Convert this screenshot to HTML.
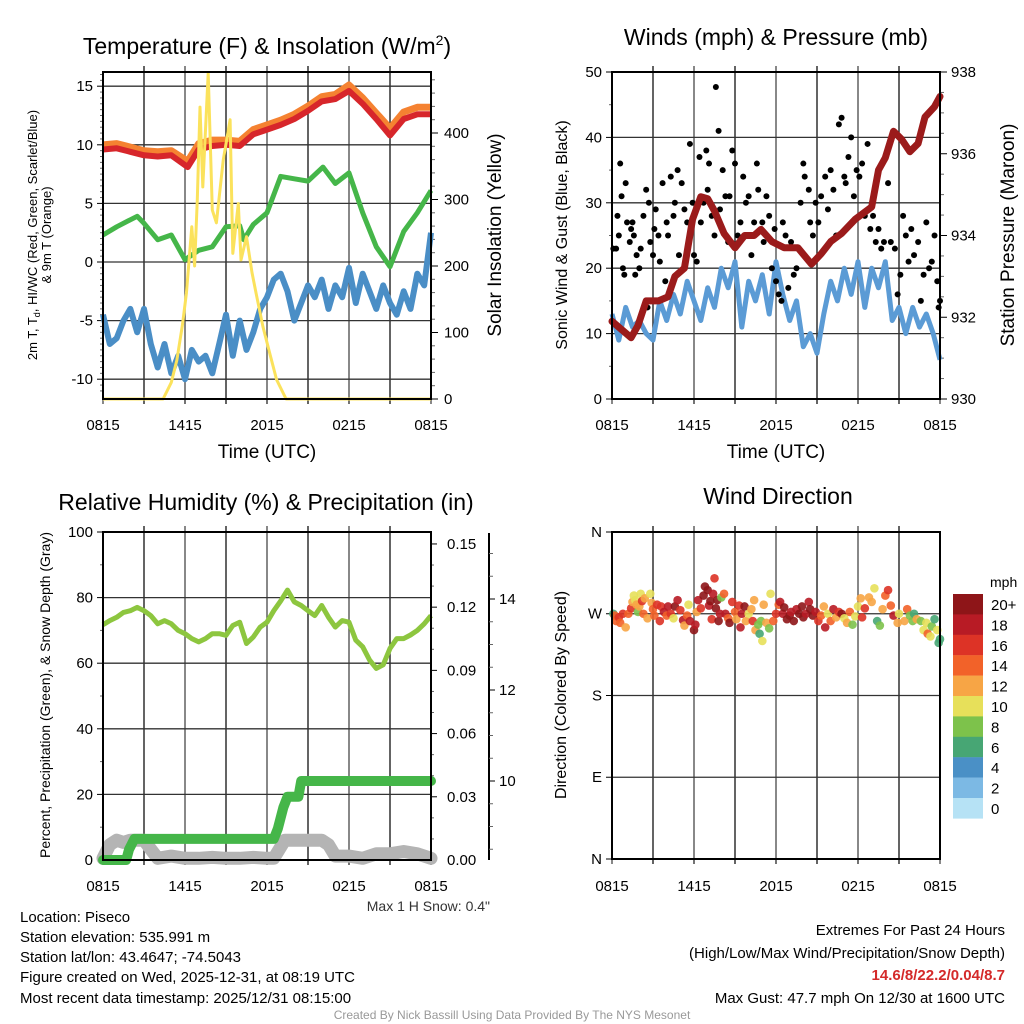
<!DOCTYPE html>
<html><head><meta charset="utf-8"><style>
body{margin:0;background:#fff;width:1024px;height:1024px;overflow:hidden}
svg{display:block;font-family:"Liberation Sans",Arial,sans-serif}
</style></head><body>
<svg id="s" width="1024" height="1024" xmlns="http://www.w3.org/2000/svg">
<g id="texts">
<text x="267" y="54" font-size="23" text-anchor="middle">Temperature (F) &amp; Insolation (W/m<tspan font-size="14" dy="-9">2</tspan><tspan dy="9">)</tspan></text>
<text x="776" y="45" font-size="23" text-anchor="middle">Winds (mph) &amp; Pressure (mb)</text>
<text x="266" y="510" font-size="23" text-anchor="middle">Relative Humidity (%) &amp; Precipitation (in)</text>
<text x="778" y="504" font-size="23" text-anchor="middle">Wind Direction</text>
<text x="267" y="458" font-size="19" text-anchor="middle">Time (UTC)</text>
<text x="776" y="458" font-size="19" text-anchor="middle">Time (UTC)</text>
<text transform="translate(37,235) rotate(-90)" font-size="13" text-anchor="middle">2m T, T<tspan font-size="9" dy="3">d</tspan><tspan dy="-3">, HI/WC (Red, Green, Scarlet/Blue)</tspan></text>
<text transform="translate(51,235) rotate(-90)" font-size="13" text-anchor="middle">&amp; 9m T (Orange)</text>
<text transform="translate(501,235) rotate(-90)" font-size="19" text-anchor="middle">Solar Insolation (Yellow)</text>
<text transform="translate(567,235) rotate(-90)" font-size="16" text-anchor="middle">Sonic Wind &amp; Gust (Blue, Black)</text>
<text transform="translate(1014,235) rotate(-90)" font-size="19" text-anchor="middle">Station Pressure (Maroon)</text>
<text transform="translate(50,695) rotate(-90)" font-size="14" text-anchor="middle">Percent, Precipitation (Green), &amp; Snow Depth (Gray)</text>
<text transform="translate(566,695) rotate(-90)" font-size="16" text-anchor="middle">Direction (Colored By Speed)</text>
<text x="490" y="911" font-size="14" fill="#333" text-anchor="end">Max 1 H Snow: 0.4"</text>
<text x="990" y="587" font-size="14">mph</text>
<g font-size="15">
<text x="20" y="922">Location: Piseco</text>
<text x="20" y="942">Station elevation: 535.991 m</text>
<text x="20" y="962">Station lat/lon: 43.4647; -74.5043</text>
<text x="20" y="982">Figure created on Wed, 2025-12-31, at 08:19 UTC</text>
<text x="20" y="1003">Most recent data timestamp: 2025/12/31 08:15:00</text>
</g>
<g font-size="15" text-anchor="end">
<text x="1005" y="935">Extremes For Past 24 Hours</text>
<text x="1005" y="958">(High/Low/Max Wind/Precipitation/Snow Depth)</text>
<text x="1005" y="980" fill="#d42a2a" font-weight="bold">14.6/8/22.2/0.04/8.7</text>
<text x="1005" y="1003">Max Gust: 47.7 mph On 12/30 at 1600 UTC</text>
</g>
<text x="512" y="1019" font-size="12" fill="#999" text-anchor="middle">Created By Nick Bassill Using Data Provided By The NYS Mesonet</text>
</g>
</svg>
<script>
// ---- data ----
const timeLabels=["0815","1415","2015","0215","0815"];
const tempH=[0,1,2,3,4,5,6.2,7,8,9,10,11,12,13,14,15,16,17,18,19,20,21,22,23,24];
const tempRed=[9.6,9.7,9.4,9.1,9.0,9.1,8.1,9.6,9.9,10.0,9.9,10.9,11.3,11.7,12.2,12.9,13.7,13.9,14.6,13.5,12.2,10.8,12.2,12.6,12.6];
const tempOrange=[10.0,10.1,9.8,9.5,9.4,9.5,8.6,10.1,10.4,10.4,10.3,11.3,11.7,12.1,12.6,13.3,14.1,14.3,15.1,14.0,12.7,11.4,12.8,13.2,13.2];
const dewH=[0,1,2,2.5,3,4,5,6,7,8,9,10,10.3,11,12,13,14,15,16.1,17,18,19,20,21,22,23,24];
const dewVal=[2.3,3.0,3.6,3.9,3.3,1.9,2.3,0.2,1.0,1.3,3.0,3.1,1.9,3.2,4.2,7.3,7.1,6.9,8.1,6.7,7.6,4.2,1.3,-0.4,2.6,4.2,6.1];
const chillVal=[-4.5,-7,-6.5,-5,-4,-6,-4,-7,-9,-7,-9.5,-8,-10,-7.5,-8.5,-8,-9.5,-7,-4.5,-8,-5,-7.5,-6,-4,-3,-1.5,-1,-2.5,-5,-3.5,-2,-3,-1.5,-4,-2,-3,-0.5,-3.5,-1,-2.5,-4,-2,-3.5,-4.5,-2.5,-4,-1,-2,2.5];
const solarH=[0,4.4,5.0,5.4,5.8,6.1,6.5,6.7,6.9,7.1,7.3,7.7,8.0,8.3,8.8,9.3,9.5,9.9,10.1,10.5,10.9,11.2,11.7,12.2,12.7,13.4,24];
const solarVal=[0,0,25,58,110,159,259,200,300,439,319,490,284,265,360,420,219,294,209,244,190,159,109,69,29,0,0];
const windVal=[13,9,14,11,12,10,9,15,12,16,13,18,15,12,17,14,20,17,21,11,18,15,19,13,21,16,12,15,8,10,7,13,18,15,20,16,21,14,20,17,21,12,14,10,14,11,13,10,6];
const presH=[0,1.4,1.9,2.5,3.4,4.1,4.6,5.3,5.9,6.5,7.0,7.5,8.2,9.0,9.7,10.4,10.9,11.7,12.6,13.6,14.6,15.3,16.0,16.8,17.8,19.0,19.5,20.0,20.6,21.2,21.8,22.4,22.9,23.6,24];
const presVal=[931.9,931.5,931.8,932.4,932.4,932.5,933.0,933.2,934.4,934.95,934.9,934.6,934.05,933.7,934.0,934.0,934.15,933.85,933.7,933.7,933.3,933.55,933.85,934.05,934.4,934.7,935.6,935.9,936.55,936.35,936.05,936.25,936.9,937.15,937.4];
const gustH=[0.1,0.3,0.4,0.5,0.6,0.7,0.8,0.9,1.0,1.1,1.3,1.4,1.5,1.6,1.7,1.8,2.0,2.1,2.3,2.5,2.6,2.7,2.8,3.0,3.1,3.2,3.4,3.5,3.7,3.9,4.0,4.1,4.3,4.5,4.6,4.8,4.9,5.1,5.3,5.5,5.7,5.9,6.0,6.2,6.4,6.5,6.7,6.9,7.0,7.1,7.3,7.5,7.6,7.8,7.9,8.1,8.3,8.5,8.6,8.8,9.0,9.2,9.4,9.6,9.8,10.0,10.2,10.4,10.6,10.7,11.0,11.1,11.3,11.5,11.7,11.9,12.0,12.2,12.4,12.5,12.7,12.9,13.1,13.3,13.5,13.8,14.0,14.1,14.4,14.5,14.7,14.9,15.1,15.3,15.6,15.8,16.0,16.2,16.4,16.6,16.8,17.0,17.1,17.3,17.5,17.7,17.9,18.1,18.3,18.5,18.7,18.9,19.1,19.3,19.5,19.7,19.9,20.2,20.4,20.7,20.9,21.1,21.3,21.5,21.7,21.9,22.1,22.4,22.6,22.8,23.0,23.2,23.4,23.6,23.8,23.9,24.0];
const gustVal=[23,23,28,25,36,31,20,19,33,27,24,26,27,25,19,22,20,23,28,32,14,30,24,22,26,29,25,21,33,18,27,25,34,28,30,35,22,33,29,27,39,30,22,21,37,27,30,38,32,36,28,25,47.7,41,29,35,31,24,31,38,36,25,27,34,30,31,22,27,36,32,27,24,31,28,20,26,18,16,15,27,25,17,24,19,20,30,36,34,32,27,25,30,27,31,34,29,35,32,25,42,43,34,33,37,40,31,35,34,36,28,39,26,28,24,26,23,24,33,24,23,16,19,28,25,21,26,22,24,15,19,27,20,21,25,18,14,15];
const rhVal=[71.7,73,74,75.5,76,77,76,74.5,72,73,72,70,69,67.5,66.5,67.5,69,69,68.5,71.5,72.5,66,68,71,72.5,76,79,82.3,78.7,77.6,76,74.5,77.6,74,71,73,72.5,67,65,61,58.4,59.5,64.5,67.5,67.5,68.6,70,72,74.5];
const precipH=[0,1.7,1.9,2.3,12.5,12.8,13.2,13.5,14.3,14.5,24];
const precipVal=[0,0,0.005,0.01,0.01,0.015,0.025,0.03,0.03,0.0375,0.0375];
const snowH=[0,0.5,1,1.5,2,3,3.5,4,5,6,7,8,9,10,11,12,12.5,13.3,14,15,16,16.5,17,18,19,20,21,22,23,24];
const snowVal=[8.3,8.6,8.7,8.65,8.7,8.7,8.5,8.3,8.35,8.3,8.3,8.32,8.3,8.3,8.32,8.3,8.3,8.7,8.7,8.7,8.7,8.6,8.35,8.35,8.3,8.4,8.4,8.45,8.4,8.3];
const dirH=[0.1,0.2,0.3,0.5,0.6,0.8,1.0,1.2,1.4,1.5,1.6,1.7,1.8,1.9,2.0,2.1,2.2,2.3,2.4,2.6,2.8,2.9,3.0,3.1,3.3,3.5,3.6,3.8,4.0,4.1,4.3,4.5,4.6,4.8,5.0,5.2,5.3,5.5,5.6,5.7,6.0,6.1,6.2,6.3,6.5,6.7,6.8,7.0,7.1,7.2,7.3,7.4,7.5,7.6,7.7,7.8,7.9,8.0,8.2,8.3,8.5,8.6,8.8,9.0,9.1,9.3,9.4,9.5,9.7,9.8,10.0,10.2,10.3,10.4,10.5,10.7,10.8,10.9,11.0,11.1,11.3,11.5,11.6,11.8,12.0,12.2,12.3,12.5,12.6,12.8,13.0,13.1,13.3,13.5,13.7,13.9,14.0,14.2,14.4,14.5,14.7,14.9,15.1,15.3,15.5,15.6,15.8,16.0,16.2,16.4,16.6,16.8,17.0,17.2,17.4,17.6,17.8,18.0,18.2,18.3,18.5,18.8,19.0,19.2,19.4,19.6,19.8,20.0,20.2,20.4,20.6,20.9,21.0,21.4,21.6,21.8,22.0,22.1,22.3,22.6,22.8,23.0,23.1,23.3,23.4,23.6,23.8,23.9,24.0];
const dirDeg=[270,268,262,266,260,270,255,270,276,283,290,285,280,272,278,292,284,270,287,265,292,282,275,268,280,262,278,272,268,278,270,265,278,285,274,263,257,268,280,262,252,258,272,285,276,290,300,296,279,284,264,292,309,276,285,262,270,288,292,270,265,260,283,272,264,279,255,270,278,262,270,275,262,285,252,258,248,262,240,280,260,254,292,262,270,280,283,270,277,264,268,272,262,275,270,278,266,270,283,275,268,272,262,268,278,255,270,262,275,266,272,270,265,260,272,258,267,278,287,266,276,288,283,298,262,257,275,290,296,279,268,260,270,262,275,268,262,270,264,262,252,260,248,245,256,264,252,238,242];
const dirSpd=[7,14,15,16,14,17,13,14,16,12,11,10,12,8,12,10,16,14,13,12,10,12,14,15,17,17,16,18,14,18,16,10,20,18,16,18,12,14,10,18,20,18,12,19,17,20,20,20,18,20,16,18,16,20,20,20,18,8,14,18,14,20,16,14,12,16,18,18,20,13,10,12,16,12,12,8,6,8,10,12,12,8,10,14,16,14,18,18,20,20,20,18,20,18,20,20,20,18,18,20,20,18,16,14,12,18,10,14,18,12,16,20,10,12,14,8,10,10,12,16,16,12,13,10,6,8,12,14,16,14,18,12,10,12,14,8,9,7,12,8,10,10,14,10,8,6,10,7,7];
const cbLabels=["20+","18","16","14","12","10","8","6","4","2","0"];
const cbColors=["#8e1518","#b81b25","#dd3326","#f26229","#f7a545","#e7e05a","#7dc24b","#47a674","#4a90c6","#7cb9e4","#b6e2f5"];

// ---- helpers ----
const NS="http://www.w3.org/2000/svg";
const svg=document.getElementById('s');
function mk(tag,attrs,parent){const e=document.createElementNS(NS,tag);for(const k in attrs)e.setAttribute(k,attrs[k]);(parent||svg).appendChild(e);return e;}
const PW=328;
function hx(x0,h){return x0+h*PW/24;}
function pathD(hs,vs,fx,fy){return hs.map((h,i)=>(i?'L':'M')+fx(h).toFixed(1)+','+fy(vs[i]).toFixed(1)).join('');}
function evenH(n){const a=[];for(let i=0;i<n;i++)a.push(i*24/(n-1));return a;}

function frame(x0,top,bot,name,lblOff){
  const g=mk('g',{});
  
  
  for(let k=1;k<8;k++){const x=hx(x0,k*3);mk('line',{x1:x,x2:x,y1:top-6,y2:bot+5,stroke:k%2?'#222':'#555','stroke-width':1.4},g);}
  timeLabels.forEach((t,i)=>{const x=hx(x0,i*6);const tl=mk('text',{x:x,y:bot+lblOff,'font-size':15,'text-anchor':'middle'});tl.textContent=t;
    
    
    mk('line',{x1:x,x2:x,y1:bot,y2:bot+5,stroke:'#555','stroke-width':1.4},g);});
  return g;
}
function hgrid(x0,top,ys,g){ys.forEach(y=>mk('line',{x1:x0,x2:x0+PW,y1:y,y2:y,stroke:'#333','stroke-width':1.3},g));}
function border(x0,top,bot,name){const r=mk('rect',{x:x0,y:top,width:PW,height:bot-top,fill:'none',stroke:'#000','stroke-width':2});
  
  }
function leftAxis(x0,vals,labels,fy,minors){
  vals.forEach((v,i)=>{const y=fy(v);mk('line',{x1:x0-6,x2:x0,y1:y,y2:y,stroke:'#000','stroke-width':1});
    const t=mk('text',{x:x0-10,y:y+5,'font-size':15,'text-anchor':'end'});t.textContent=labels[i];
    
    });
  minors.forEach(v=>{const y=fy(v);mk('line',{x1:x0-3,x2:x0,y1:y,y2:y,stroke:'#666','stroke-width':1});});
}
function rightAxis(x,vals,labels,fy,minors,lx){
  vals.forEach((v,i)=>{const y=fy(v);mk('line',{x1:x,x2:x+7,y1:y,y2:y,stroke:'#000','stroke-width':1});
    const t=mk('text',{x:lx,y:y+5,'font-size':15});t.textContent=labels[i];
    
    });
  minors.forEach(v=>{const y=fy(v);mk('line',{x1:x,x2:x+4,y1:y,y2:y,stroke:'#666','stroke-width':1});});
}
function range(a,b,s){const r=[];for(let v=a;v<=b+1e-9;v+=s)r.push(+v.toFixed(4));return r;}

// ---- Panel 1: temperature ----
{
 const x0=103,top=72,bot=399;
 const fx=h=>hx(x0,h), fT=v=>262-v*11.72, fS=v=>399-v*0.665;
 const g=frame(x0,top,bot,'temperature',31);
 hgrid(x0,top,[15,10,5,0,-5,-10].map(fT),g);
 leftAxis(x0,[15,10,5,0,-5,-10],["15","10","5","0","-5","-10"],fT,range(-11,16,0.5).filter(v=>v%5));
 rightAxis(431,[0,100,200,300,400],["0","100","200","300","400"],fS,range(20,480,20).filter(v=>v%100),444);
 let p;
 p=mk('path',{d:pathD(evenH(chillVal.length),chillVal,fx,fT),fill:'none',stroke:'#4a8ec6','stroke-width':6,'stroke-linejoin':'round'});
 
 
 p=mk('path',{d:pathD(dewH,dewVal,fx,fT),fill:'none',stroke:'#45b649','stroke-width':5,'stroke-linejoin':'round'});
 
 
 p=mk('path',{d:pathD(tempH,tempOrange,fx,fT),fill:'none',stroke:'#f58231','stroke-width':7,'stroke-linejoin':'round'});
 
 
 p=mk('path',{d:pathD(tempH,tempRed,fx,fT),fill:'none',stroke:'#d7262b','stroke-width':6,'stroke-linejoin':'round'});
 
 
 p=mk('path',{d:pathD(solarH,solarVal,fx,fS),fill:'none',stroke:'#fbe25c','stroke-width':3,'stroke-linejoin':'round'});
 
 
 border(x0,top,bot,'temperature');
}
// ---- Panel 2: winds ----
{
 const x0=612,top=72,bot=399;
 const fx=h=>hx(x0,h), fW=v=>399-v*6.54, fP=p=>399-(p-930)*40.875;
 const g=frame(x0,top,bot,'winds',31);
 hgrid(x0,top,[10,20,30,40].map(fW),g);
 leftAxis(x0,[0,10,20,30,40,50],["0","10","20","30","40","50"],fW,[5,15,25,35,45]);
 rightAxis(940,[930,932,934,936,938],["930","932","934","936","938"],fP,range(930.5,937.5,0.5).filter(v=>v%2),951);
 let p=mk('path',{d:pathD(evenH(windVal.length),windVal,fx,fW),fill:'none',stroke:'#5b9bd5','stroke-width':5,'stroke-linejoin':'round'});
 
 
 gustH.forEach((h,i)=>{const c=mk('circle',{cx:fx(h),cy:fW(gustVal[i]),r:3,fill:'#000'});
   
   });
 p=mk('path',{d:pathD(presH,presVal,fx,fP),fill:'none',stroke:'#9b1b1b','stroke-width':7,'stroke-linejoin':'round','stroke-linecap':'round'});
 
 
 border(x0,top,bot,'winds');
}
// ---- Panel 3: humidity ----
{
 const x0=103,top=532,bot=860;
 const fx=h=>hx(x0,h), fR=v=>860-v*3.28, fPr=p=>860-p*2107, fSn=d=>781+(10-d)*45.5;
 const g=frame(x0,top,bot,'humidity',31);
 hgrid(x0,top,[20,40,60,80].map(fR),g);
 leftAxis(x0,[0,20,40,60,80,100],["0","20","40","60","80","100"],fR,[10,30,50,70,90]);
 rightAxis(430,[0,0.03,0.06,0.09,0.12,0.15],["0.00","0.03","0.06","0.09","0.12","0.15"],fPr,range(0.01,0.15,0.01).filter(v=>Math.round(v*100)%3),447);
 const ax=mk('line',{x1:489,x2:489,y1:533,y2:860,stroke:'#000','stroke-width':2});
 
 
 [10,12,14].forEach(v=>{const y=fSn(v);mk('line',{x1:489,x2:495,y1:y,y2:y,stroke:'#000'});const t=mk('text',{x:499,y:y+5,'font-size':15});t.textContent=String(v);
   
   });
 range(8.5,15,0.5).filter(v=>v%2).forEach(v=>{const y=fSn(v);if(y>=533&&y<=860)mk('line',{x1:489,x2:493,y1:y,y2:y,stroke:'#666'});});
 let p=mk('path',{d:pathD(snowH,snowVal,fx,fSn),fill:'none',stroke:'#b4b4b4','stroke-width':13,'stroke-linejoin':'round','stroke-linecap':'round'});
 
 
 p=mk('path',{d:pathD(precipH,precipVal,fx,fPr),fill:'none',stroke:'#45b649','stroke-width':10,'stroke-linejoin':'round','stroke-linecap':'round'});
 
 
 p=mk('path',{d:pathD(evenH(rhVal.length),rhVal,fx,fR),fill:'none',stroke:'#8dc63f','stroke-width':5,'stroke-linejoin':'round'});
 
 
 border(x0,top,bot,'humidity');
}
// ---- Panel 4: wind direction ----
{
 const x0=612,top=532,bot=859;
 const fx=h=>hx(x0,h), fD=d=>532+(360-d)*0.9083;
 const g=frame(x0,top,bot,'direction',32);
 hgrid(x0,top,[270,180,90].map(fD),g);
 leftAxis(x0,[360,270,180,90,0],["N","W","S","E","N"],fD,[]);
 dirH.forEach((h,i)=>{const idx=Math.min(10,Math.floor(dirSpd[i]/2));const c=mk('circle',{cx:fx(h),cy:fD(dirDeg[i]),r:4.3,fill:cbColors[10-idx],'fill-opacity':0.9});
   
   });
 border(x0,top,bot,'direction');
 const cb=mk('g',{});
 
 
 cbColors.forEach((c,i)=>{mk('rect',{x:953,y:594+i*20.4,width:30,height:20.6,fill:c},cb);
   const t=mk('text',{x:991,y:594+i*20.4+16,'font-size':15},cb);t.textContent=cbLabels[i];
   
   });
}
</script>
</body></html>
